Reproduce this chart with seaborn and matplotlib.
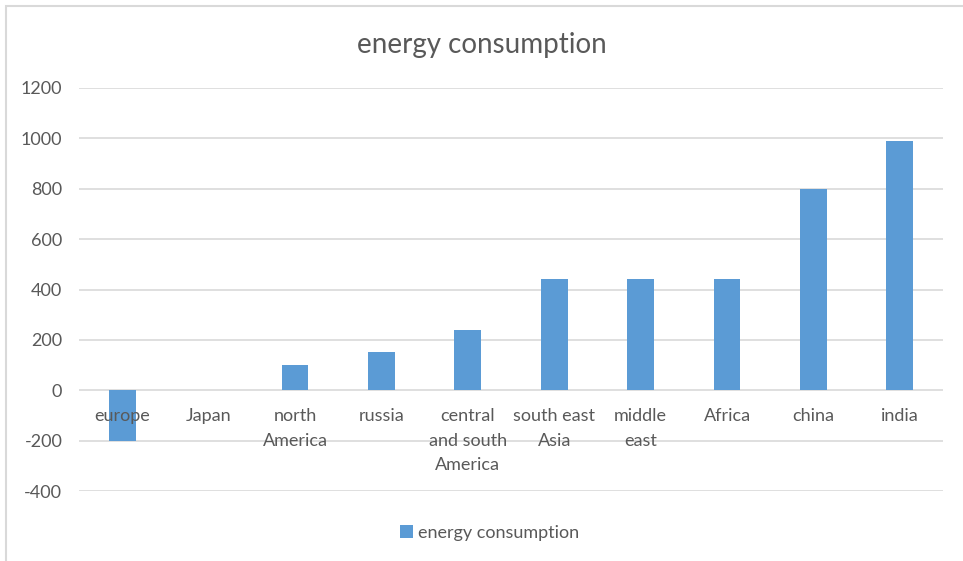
import matplotlib
matplotlib.use("Agg")
import matplotlib.pyplot as plt
import seaborn as sns
import pandas as pd
from matplotlib.patches import Rectangle

sns.set_theme(style="white")
plt.rcParams['font.family'] = ['Lato', 'DejaVu Sans']
plt.rcParams['axes.unicode_minus'] = False

# data
regions = ["europe", "Japan", "north\nAmerica", "russia", "central\nand south\nAmerica",
           "south east\nAsia", "middle\neast", "Africa", "china", "india"]
consumption = [-200, 0, 100, 150, 240, 440, 440, 440, 800, 990]
y_ticks = [-400, -200, 0, 200, 400, 600, 800, 1000, 1200]

bar_color = "#5B9BD5"
text_color = "#595959"
grid_color = "#D9D9D9"

df = pd.DataFrame({"region": regions, "energy consumption": consumption})

fig = plt.figure(figsize=(9.63, 5.61), dpi=100)
ax = fig.add_axes([79/963, 1 - 491/561, (943 - 79)/963, (491 - 88)/561])

sns.barplot(data=df, x="region", y="energy consumption", color=bar_color,
            width=0.31, saturation=1, ax=ax, label="energy consumption",
            zorder=2, linewidth=0)

ax.set_ylim(-400, 1200)
ax.set_yticks(y_ticks)
ax.set_xlim(-0.5, len(regions) - 0.5)
# gridlines behind the bars, axis labels on top of them (like Excel)
for t in y_ticks:
    ax.axhline(t, color=grid_color, linewidth=1.2, zorder=0)
ax.set_axisbelow(False)
ax.xaxis.set_zorder(3)
ax.set_xlabel("")
ax.set_ylabel("")

for side in ["top", "right", "left", "bottom"]:
    ax.spines[side].set_visible(False)

ax.tick_params(axis="y", length=0, pad=12, labelsize=13, labelcolor=text_color)
ax.tick_params(axis="x", length=0, labelsize=13, labelcolor=text_color)
# category labels hang just below the zero line
zero_frac = (0 - (-400)) / (1200 - (-400))
for lbl in ax.get_xticklabels():
    lbl.set_linespacing(1.65)
    lbl.set_verticalalignment("top")
ax.set_xticks(range(len(regions)))
for tick in ax.xaxis.get_major_ticks():
    tick.label1.set_y(zero_frac - 0.033)

fig.text(0.5, 1 - 45/561, "energy consumption", ha="center", va="center",
         fontsize=20, color=text_color)

if ax.get_legend():
    ax.get_legend().remove()
handles, labels = ax.get_legend_handles_labels()
fig.legend(handles, labels, loc="center", bbox_to_anchor=(490/963, 1 - 533/561),
           frameon=False, fontsize=13, labelcolor=text_color,
           handlelength=0.7, handleheight=0.7, handletextpad=0.3)

# chart frame (Excel chart area border)
fig.add_artist(Rectangle((6/963, -0.1), 1.2, 1.1 - 6/561, transform=fig.transFigure,
                         fill=False, edgecolor=grid_color, linewidth=1.5))

fig.savefig("out.png", dpi=100)
